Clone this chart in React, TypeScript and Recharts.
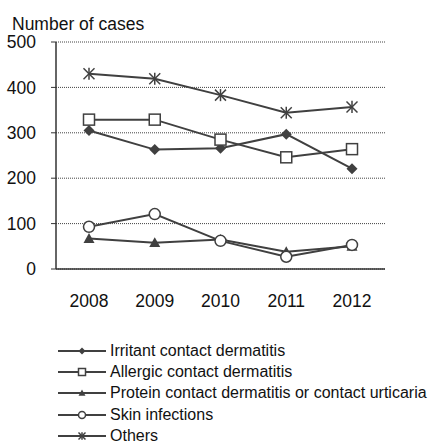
import { CartesianGrid, Line, LineChart, XAxis, YAxis } from 'recharts'

// ── Data ──────────────────────────────────────────────────────────────────────

const YEARS = ['2008', '2009', '2010', '2011', '2012']
const IRRITANT = [305, 263, 266, 297, 221]
const ALLERGIC = [329, 329, 285, 246, 264]
const PROTEIN = [67, 58, 65, 38, 50]
const SKIN = [93, 121, 62, 27, 53]
const OTHERS = [430, 419, 383, 344, 357]
const Y_TICKS = [0, 100, 200, 300, 400, 500]

const SERIES = [
  { key: 'irritant', name: 'Irritant contact dermatitis', values: IRRITANT, marker: 'diamond' },
  { key: 'allergic', name: 'Allergic contact dermatitis', values: ALLERGIC, marker: 'square' },
  { key: 'protein', name: 'Protein contact dermatitis or contact urticaria', values: PROTEIN, marker: 'triangle' },
  { key: 'skin', name: 'Skin infections', values: SKIN, marker: 'circle' },
  { key: 'others', name: 'Others', values: OTHERS, marker: 'star' },
]

const data = YEARS.map((year, i) => {
  const row: Record<string, string | number> = { year }
  SERIES.forEach((s) => (row[s.key] = s.values[i]))
  return row
})

// ── Style ─────────────────────────────────────────────────────────────────────

const INK = '#404040'
const FONT = 'Liberation Sans, Arial, sans-serif'

// ── Markers ───────────────────────────────────────────────────────────────────

function Marker({ kind, cx, cy, s }: { kind: string; cx: number; cy: number; s: number }) {
  const h = s / 2
  switch (kind) {
    case 'diamond':
      return <polygon points={`${cx},${cy - h} ${cx + h},${cy} ${cx},${cy + h} ${cx - h},${cy}`} fill={INK} />
    case 'square':
      return <rect x={cx - h} y={cy - h} width={s} height={s} fill="#fff" stroke={INK} strokeWidth={1.5} />
    case 'triangle':
      return <polygon points={`${cx},${cy - h} ${cx + h},${cy + h * 0.8} ${cx - h},${cy + h * 0.8}`} fill={INK} />
    case 'circle':
      return <circle cx={cx} cy={cy} r={h} fill="#fff" stroke={INK} strokeWidth={1.5} />
    default:
      return (
        <g stroke={INK} strokeWidth={1.5}>
          <line x1={cx - h} y1={cy - h} x2={cx + h} y2={cy + h} />
          <line x1={cx - h} y1={cy + h} x2={cx + h} y2={cy - h} />
          <line x1={cx} y1={cy - h * 1.1} x2={cx} y2={cy + h * 1.1} />
        </g>
      )
  }
}

function makeDot(kind: string) {
  return (props: any) => {
    const { cx, cy, index } = props
    if (cx == null || cy == null) return <g key={index} />
    return (
      <g key={index}>
        <Marker kind={kind} cx={cx} cy={cy} s={11} />
      </g>
    )
  }
}

// ── Chart ─────────────────────────────────────────────────────────────────────

export default function App() {
  const tickStyle = { fontSize: 17.5, fill: '#111', fontFamily: FONT }
  return (
    <div style={{ position: 'absolute', left: 0, top: 0, width: 428, height: 443, background: '#fff', fontFamily: FONT }}>
      <div style={{ position: 'absolute', left: 12, top: 16, fontSize: 17.5, lineHeight: '16px', color: '#111', whiteSpace: 'nowrap' }}>
        Number of cases
      </div>
      <LineChart width={428} height={320} data={data} margin={{ top: 42, right: 43, left: 8, bottom: 11 }}>
        <CartesianGrid vertical={false} stroke="#444" strokeDasharray="1 1" />
        <XAxis
          dataKey="year"
          padding={{ left: 33, right: 33 }}
          tickLine={false}
          tickSize={0}
          tickMargin={26}
          height={40}
          axisLine={{ stroke: '#333', strokeWidth: 1.5 }}
          tick={tickStyle}
        />
        <YAxis
          domain={[0, 500]}
          ticks={Y_TICKS}
          width={48}
          tickSize={5}
          tickMargin={15}
          axisLine={{ stroke: '#333', strokeWidth: 1.5 }}
          tickLine={{ stroke: '#333' }}
          tick={tickStyle}
          interval={0}
        />
        <YAxis
          yAxisId="right"
          orientation="right"
          domain={[0, 500]}
          width={0}
          tick={false}
          tickLine={false}
          axisLine={{ stroke: '#333', strokeWidth: 1.5 }}
        />
        {SERIES.map((s) => (
          <Line
            key={s.key}
            dataKey={s.key}
            name={s.name}
            type="linear"
            stroke={INK}
            strokeWidth={2}
            dot={makeDot(s.marker)}
            activeDot={false}
            isAnimationActive={false}
          />
        ))}
      </LineChart>
      <div style={{ position: 'absolute', left: 58, top: 340 }}>
        {SERIES.map((s) => (
          <div key={s.key} style={{ display: 'flex', alignItems: 'center', height: 21.3, fontSize: 16, color: '#111', whiteSpace: 'nowrap' }}>
            <svg width={50} height={14} style={{ marginRight: 2 }}>
              <line x1={0} y1={7} x2={48} y2={7} stroke={INK} strokeWidth={2} />
              <Marker kind={s.marker} cx={24} cy={7} s={7} />
            </svg>
            {s.name}
          </div>
        ))}
      </div>
    </div>
  )
}
